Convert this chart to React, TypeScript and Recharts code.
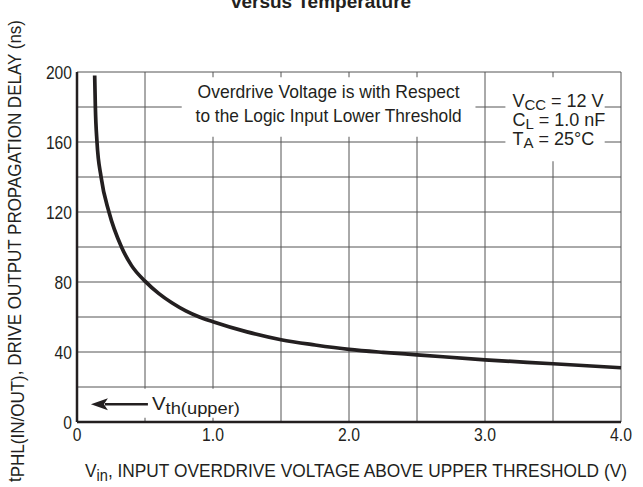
import React from 'react';
import {
  LineChart,
  Line,
  XAxis,
  YAxis,
  CartesianGrid,
  ReferenceArea,
  Customized,
} from 'recharts';

// overdrive voltage (V) and propagation delay (ns)
const overdrive = [0.13, 0.135, 0.147, 0.177, 0.235, 0.327, 0.4, 0.5, 0.6, 0.7, 0.8, 0.9, 1.0, 1.25, 1.5, 1.75, 2.0, 2.25, 2.5, 3.0, 3.5, 4.0];
const delay = [198, 180, 160, 140, 120, 100, 89.5, 80.5, 73.5, 68, 63.5, 60, 57.3, 51.5, 47, 44, 41.5, 39.8, 38.4, 35.5, 33.3, 31];

const xTicks = [0, 0.5, 1, 1.5, 2, 2.5, 3, 3.5, 4];
const yTicks = [0, 20, 40, 60, 80, 100, 120, 140, 160, 180, 200];

const noteLines = ['Overdrive Voltage is with Respect', 'to the Logic Input Lower Threshold'];

const data = overdrive.map((v, i) => ({ vin: v, tphl: delay[i] }));

const FONT = "'Liberation Sans', Arial, sans-serif";
const INK = '#231f20';

const fmtX = (v: number) => (v % 1 !== 0 ? '' : v === 0 ? '0' : v.toFixed(1));
const fmtY = (v: number) => (v % 40 === 0 ? String(v) : '');

// narrow look: squeeze text to the width it has in the datasheet
const narrowLen = (s: string) => s.split('').reduce((w, c) => w + (c === '.' ? 4.5 : 8.7), 0);

const XTick = ({ x, y, payload }: any) => {
  const s = fmtX(payload.value);
  if (!s) return <g />;
  return (
    <text x={x} y={y} dy="0.71em" textAnchor="middle" fontFamily={FONT} fontSize={19} fill={INK}
      textLength={narrowLen(s)} lengthAdjust="spacingAndGlyphs">
      {s}
    </text>
  );
};

const YTick = ({ x, y, payload }: any) => {
  const s = fmtY(payload.value);
  if (!s) return <g />;
  return (
    <text x={x} y={y} dy="0.355em" textAnchor="end" fontFamily={FONT} fontSize={19} fill={INK}
      textLength={narrowLen(s)} lengthAdjust="spacingAndGlyphs">
      {s}
    </text>
  );
};

const NoteLabel = ({ viewBox }: any) => {
  const cx = viewBox.x + viewBox.width / 2;
  return (
    <g fontFamily={FONT} fontSize={19} fill={INK}>
      <text x={cx} y={viewBox.y + 21} textAnchor="middle" textLength={262} lengthAdjust="spacingAndGlyphs">{noteLines[0]}</text>
      <text x={cx} y={viewBox.y + 45} textAnchor="middle" textLength={266} lengthAdjust="spacingAndGlyphs">{noteLines[1]}</text>
    </g>
  );
};

const CondLabel = ({ viewBox }: any) => {
  const x = viewBox.x + 7;
  const y = viewBox.y;
  return (
    <g fontFamily={FONT} fontSize={18} fill={INK}>
      <text x={x} y={y + 30}>
        V<tspan fontSize={15} dy={3}>CC</tspan>
        <tspan dy={-3}> = 12 V</tspan>
      </text>
      <text x={x} y={y + 49}>
        C<tspan fontSize={15} dy={3}>L</tspan>
        <tspan dy={-3}> = 1.0 nF</tspan>
      </text>
      <text x={x} y={y + 68}>
        T<tspan fontSize={15} dy={3}>A</tspan>
        <tspan dy={-3}> = 25°C</tspan>
      </text>
    </g>
  );
};

const VthLabel = ({ viewBox }: any) => {
  const x = viewBox.x;
  const y = viewBox.y + viewBox.height / 2 + 1;
  return (
    <g fill={INK}>
      <line x1={x - 36} y1={y} x2={x + 7} y2={y} stroke={INK} strokeWidth={2.5} />
      <path d={`M${x - 50},${y} L${x - 33},${y - 6} L${x - 37},${y} L${x - 33},${y + 6} Z`} />
      <text x={x + 11} y={y + 6} fontFamily={FONT} fontSize={19} textLength={88} lengthAdjust="spacingAndGlyphs">
        V<tspan fontSize={17} dy={4}>th(upper)</tspan>
      </text>
    </g>
  );
};

const XTitle = () => (
  <text x={85} y={477} fontFamily={FONT} fontSize={19} fill={INK} textLength={542} lengthAdjust="spacingAndGlyphs">
    V<tspan fontSize={16} dy={4}>in</tspan>
    <tspan dy={-4}>, INPUT OVERDRIVE VOLTAGE ABOVE UPPER THRESHOLD (V)</tspan>
  </text>
);

const YTitle = () => (
  <text transform="translate(21,20) rotate(-90)" textAnchor="end" fontFamily={FONT} fontSize={19} fill={INK}
    textLength={462} lengthAdjust="spacingAndGlyphs">
    t<tspan dy={3}>PHL(IN/OUT)</tspan>
    <tspan dy={-3}>, DRIVE OUTPUT PROPAGATION DELAY (ns)</tspan>
  </text>
);

const Title = () => (
  <text x={321} y={8} textAnchor="middle" fontFamily={FONT} fontWeight="bold" fontSize={19} fill={INK}>
    versus Temperature
  </text>
);

export default function App() {
  return (
    <div style={{ position: 'absolute', left: 0, top: 0, width: 643, height: 487, background: '#fff' }}>
      <LineChart width={643} height={487} data={data} margin={{ top: 72, right: 22, bottom: 0, left: 0 }}>
        <CartesianGrid stroke="#555" strokeWidth={1} />
        <XAxis
          dataKey="vin"
          type="number"
          domain={[0, 4]}
          ticks={xTicks}
          interval={0}
          height={65}
          tickLine={false}
          tickSize={0}
          tickMargin={6}
          axisLine={{ stroke: INK, strokeWidth: 2.5 }}
          tick={<XTick />}
          label={XTitle}
        />
        <YAxis
          type="number"
          domain={[0, 200]}
          ticks={yTicks}
          interval={0}
          width={77}
          tickLine={false}
          tickSize={0}
          tickMargin={5}
          axisLine={{ stroke: INK, strokeWidth: 2.5 }}
          tick={<YTick />}
          label={YTitle}
        />
        <ReferenceArea x1={0.77} x2={2.93} y1={163} y2={197} fill="#fff" fillOpacity={1} stroke="none" label={NoteLabel} />
        <ReferenceArea x1={3.15} x2={3.88} y1={149} y2={197} fill="#fff" fillOpacity={1} stroke="none" label={CondLabel} />
        <ReferenceArea x1={0.47} x2={1.25} y1={2.5} y2={19} fill="#fff" fillOpacity={1} stroke="none" label={VthLabel} />
        <Line
          type="monotone"
          dataKey="tphl"
          stroke={INK}
          strokeWidth={3.7}
          dot={false}
          isAnimationActive={false}
        />
        <Customized component={<Title />} />
      </LineChart>
    </div>
  );
}
